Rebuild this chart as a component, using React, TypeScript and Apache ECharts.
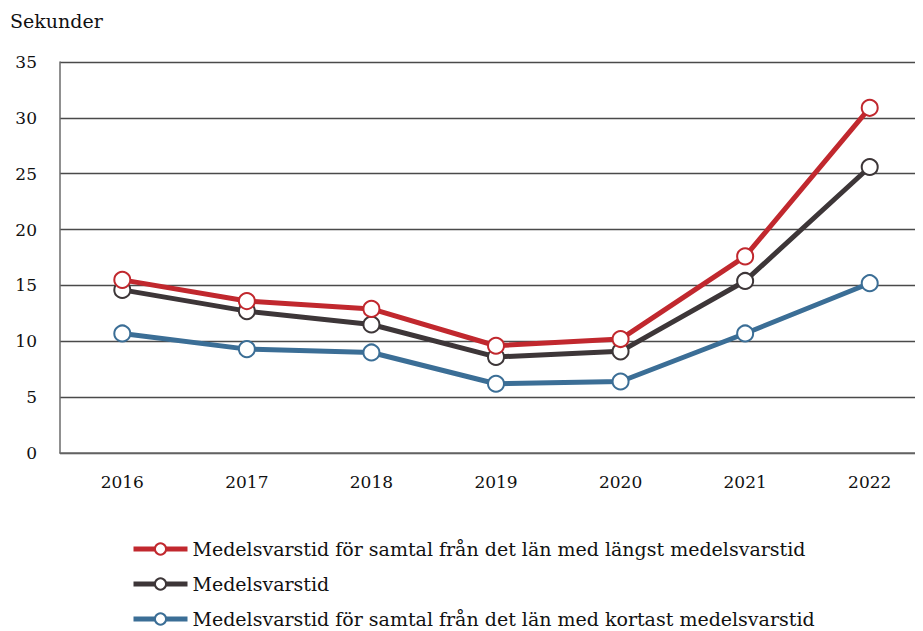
import React, { useEffect, useRef } from "react";
import * as echarts from "echarts";

const years = ["2016", "2017", "2018", "2019", "2020", "2021", "2022"];
const longest = [15.5, 13.6, 12.9, 9.6, 10.2, 17.6, 30.9];
const average = [14.6, 12.7, 11.5, 8.6, 9.1, 15.4, 25.6];
const shortest = [10.7, 9.3, 9.0, 6.2, 6.4, 10.7, 15.2];

const seriesNames = [
  "Medelsvarstid för samtal från det län med längst medelsvarstid",
  "Medelsvarstid",
  "Medelsvarstid för samtal från det län med kortast medelsvarstid",
];
const colors = ["#c1282e", "#3d3638", "#3b6e96"];

const FONT = "DejaVu Serif";

export default function App() {
  const ref = useRef<HTMLDivElement>(null);
  useEffect(() => {
    if (!ref.current) return;
    const chart = echarts.init(ref.current, undefined, { renderer: "svg" });
    const data = [longest, average, shortest];
    chart.setOption({
      animation: false,
      textStyle: { fontFamily: FONT, color: "#111" },
      title: {
        text: "Sekunder",
        left: 2,
        top: 3,
        padding: 0,
        textStyle: { fontFamily: FONT, fontSize: 19, fontWeight: "normal", color: "#111" },
      },
      grid: { left: 52, right: 11, top: 54, bottom: 195, containLabel: false },
      xAxis: {
        type: "category",
        data: years,
        boundaryGap: true,
        axisLine: { show: true, lineStyle: { color: "#6b6b6b", width: 1.5 } },
        axisTick: { show: false },
        axisLabel: { fontFamily: FONT, fontSize: 17, color: "#111", margin: 20 },
      },
      yAxis: {
        type: "value",
        min: 0,
        max: 35,
        interval: 5,
        axisLine: { show: true, lineStyle: { color: "#6b6b6b", width: 1.5 } },
        axisTick: { show: false },
        axisLabel: { fontFamily: FONT, fontSize: 17, color: "#111", margin: 23 },
        splitLine: { show: true, lineStyle: { color: "#4a4a4a", width: 1.3 } },
      },
      legend: {
        orient: "vertical",
        left: 118,
        top: 526,
        height: 200,
        itemWidth: 54,
        itemHeight: 14,
        itemGap: 15,
        lineStyle: { width: 5 },
        textStyle: { fontFamily: FONT, fontSize: 19, lineHeight: 20, color: "#111" },
        data: seriesNames,
      },
      series: seriesNames.map((name, i) => ({
        name,
        type: "line",
        data: data[i],
        color: colors[i],
        symbol: "circle",
        symbolSize: 16,
        lineStyle: { width: 5, color: colors[i] },
        itemStyle: { color: "#fff", borderColor: colors[i], borderWidth: 2 },
        z: 10 - i,
      })),
    });
    return () => chart.dispose();
  }, []);
  return (
    <div style={{ width: 915, height: 623, overflow: "hidden", position: "relative" }}>
      <div ref={ref} style={{ width: 935, height: 640 }} />
    </div>
  );
}
